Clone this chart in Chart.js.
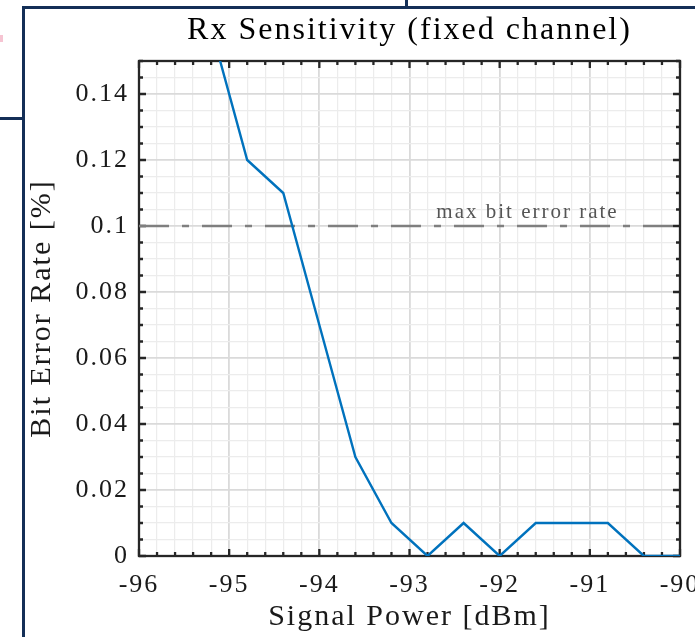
<!DOCTYPE html>
<html>
<head>
<meta charset="utf-8">
<script src="https://cdn.jsdelivr.net/npm/chart.js@4"></script>
<style>
  html, body { margin: 0; padding: 0; background: #ffffff; }
  #wrap { position: relative; width: 695px; height: 637px; overflow: hidden; }
  #chart { position: absolute; left: 0; top: 0; }
  .frame { position: absolute; background: #142f57; }
</style>
</head>
<body>
<div id="wrap">
  <canvas id="chart" width="695" height="637"></canvas>
  <!-- bits of the surrounding window frame seen in the screenshot -->
  <div class="frame" style="left:22px; top:6px; width:673px; height:3px;"></div>
  <div class="frame" style="left:22px; top:6px; width:3px; height:631px;"></div>
  <div class="frame" style="left:0; top:117px; width:22px; height:3px;"></div>
  <div class="frame" style="left:405px; top:0; width:3px; height:8px;"></div>
  <div style="position:absolute; left:0; top:35px; width:3px; height:7px; background:#f6c4d2;"></div>
</div>
<script>
/* Data */
const signalPower = [-95.2, -94.8, -94.4, -94.0, -93.6, -93.2, -92.8, -92.4, -92.0, -91.6, -91.2, -90.8, -90.4, -90.0];
const bitErrorRate = [0.16, 0.12, 0.11, 0.07, 0.03, 0.01, 0, 0.01, 0, 0.01, 0.01, 0.01, 0, 0];

const xTickLabels = [-96, -95, -94, -93, -92, -91, -90];
const yTickLabels = [0, 0.02, 0.04, 0.06, 0.08, 0.1, 0.12, 0.14];

const maxErrorRate = 0.1;
const maxErrorText = 'max bit error rate';
const maxErrorTextAt = -90.68;   // right end of the label, in dBm

const xMin = -96, xMax = -90, xMinor = 0.2;
const yMin = 0, yMax = 0.15, yMinor = 0.005;

// is value one of the labelled (major) ticks?
function isMajor(list, v) {
    return list.some(t => Math.abs(t - v) < 1e-6);
}

const serif = "'Liberation Serif', 'Times New Roman', serif";

// wider letters, closer to the LaTeX font of the original
const spacing = {
    id: 'spacing',
    beforeUpdate(chart) { chart.ctx.letterSpacing = '2px'; },
    beforeLayout(chart) { chart.ctx.letterSpacing = '2px'; },
    beforeDraw(chart) { chart.ctx.letterSpacing = '2px'; }
};

// axes box, inward ticks on all four sides, threshold label
const axesBox = {
    id: 'axesBox',
    beforeDatasetsDraw(chart) {
        const ctx = chart.ctx;
        const a = chart.chartArea;
        const x = chart.scales.x;
        const y = chart.scales.y;

        ctx.save();
        ctx.fillStyle = '#555555';
        ctx.font = '21px ' + serif;
        ctx.textAlign = 'right';
        ctx.textBaseline = 'alphabetic';
        ctx.fillText(maxErrorText, x.getPixelForValue(maxErrorTextAt), y.getPixelForValue(maxErrorRate) - 8);

        ctx.strokeStyle = '#262626';
        ctx.lineWidth = 2.3;
        ctx.beginPath();
        x.ticks.forEach(t => {
            const px = x.getPixelForValue(t.value);
            const len = isMajor(xTickLabels, t.value) ? 7 : 4;
            ctx.moveTo(px, a.bottom); ctx.lineTo(px, a.bottom - len);
            ctx.moveTo(px, a.top); ctx.lineTo(px, a.top + len);
        });
        y.ticks.forEach(t => {
            const py = y.getPixelForValue(t.value);
            const len = isMajor(yTickLabels, t.value) ? 7 : 4;
            ctx.moveTo(a.left, py); ctx.lineTo(a.left + len, py);
            ctx.moveTo(a.right, py); ctx.lineTo(a.right - len, py);
        });
        ctx.stroke();
        ctx.strokeRect(a.left, a.top, a.right - a.left, a.bottom - a.top);
        ctx.restore();
    }
};

const berPoints = signalPower.map((p, i) => ({ x: p, y: bitErrorRate[i] }));
const limitPoints = [{ x: xMin, y: maxErrorRate }, { x: xMax, y: maxErrorRate }];

const ctx = document.getElementById('chart').getContext('2d');
const myChart = new Chart(ctx, {
    type: 'line',
    data: {
        datasets: [{
            data: berPoints,
            borderColor: '#0072BD',
            borderWidth: 2.4,
            pointRadius: 0,
            tension: 0
        }, {
            data: limitPoints,
            borderColor: '#7f7f7f',
            borderWidth: 2.4,
            borderDash: [30, 13, 7, 13],
            pointRadius: 0,
            tension: 0
        }]
    },
    options: {
        responsive: false,
        devicePixelRatio: 1,
        animation: false,
        layout: { padding: { left: 0, right: 15, top: 0, bottom: 0 } },
        plugins: {
            legend: { display: false },
            tooltip: { enabled: false },
            title: {
                display: true,
                text: 'Rx Sensitivity (fixed channel)',
                fullSize: false,
                color: '#000000',
                font: { family: serif, size: 32, weight: 'normal', lineHeight: 1.2 },
                padding: { top: 11, bottom: 11.6 }
            }
        },
        scales: {
            x: {
                type: 'linear',
                min: xMin,
                max: xMax,
                border: { display: false },
                grid: {
                    drawTicks: false,
                    color: c => isMajor(xTickLabels, c.tick.value) ? '#dadada' : '#ececec',
                    lineWidth: c => isMajor(xTickLabels, c.tick.value) ? 1.8 : 1.2
                },
                ticks: {
                    stepSize: xMinor,
                    autoSkip: false,
                    maxRotation: 0,
                    minRotation: 0,
                    padding: 14,
                    color: '#1a1a1a',
                    font: { family: serif, size: 26 },
                    callback: v => isMajor(xTickLabels, v) ? String(Math.round(v)) : ''
                },
                title: {
                    display: true,
                    text: 'Signal Power [dBm]',
                    color: '#1a1a1a',
                    font: { family: serif, size: 30, lineHeight: 1.2 },
                    padding: { top: 0, bottom: 2 }
                },
                afterFit: s => { s.height = 81; s.paddingLeft = 0; s.paddingRight = 0; }
            },
            y: {
                type: 'linear',
                min: yMin,
                max: yMax,
                border: { display: false },
                grid: {
                    drawTicks: false,
                    color: c => isMajor(yTickLabels, c.tick.value) ? '#dadada' : '#ececec',
                    lineWidth: c => isMajor(yTickLabels, c.tick.value) ? 1.8 : 1.2
                },
                ticks: {
                    stepSize: yMinor,
                    autoSkip: false,
                    padding: 10,
                    color: '#1a1a1a',
                    font: { family: serif, size: 26 },
                    callback: v => isMajor(yTickLabels, v) ? String(parseFloat(v.toFixed(3))) : ''
                },
                title: {
                    display: true,
                    text: 'Bit Error Rate [%]',
                    color: '#1a1a1a',
                    font: { family: serif, size: 30, lineHeight: 1.2 },
                    padding: { top: 24, bottom: 0 }
                },
                afterFit: s => { s.width = 139; s.paddingTop = 0; s.paddingBottom = 0; }
            }
        }
    },
    plugins: [spacing, axesBox]
});
</script>
</body>
</html>
